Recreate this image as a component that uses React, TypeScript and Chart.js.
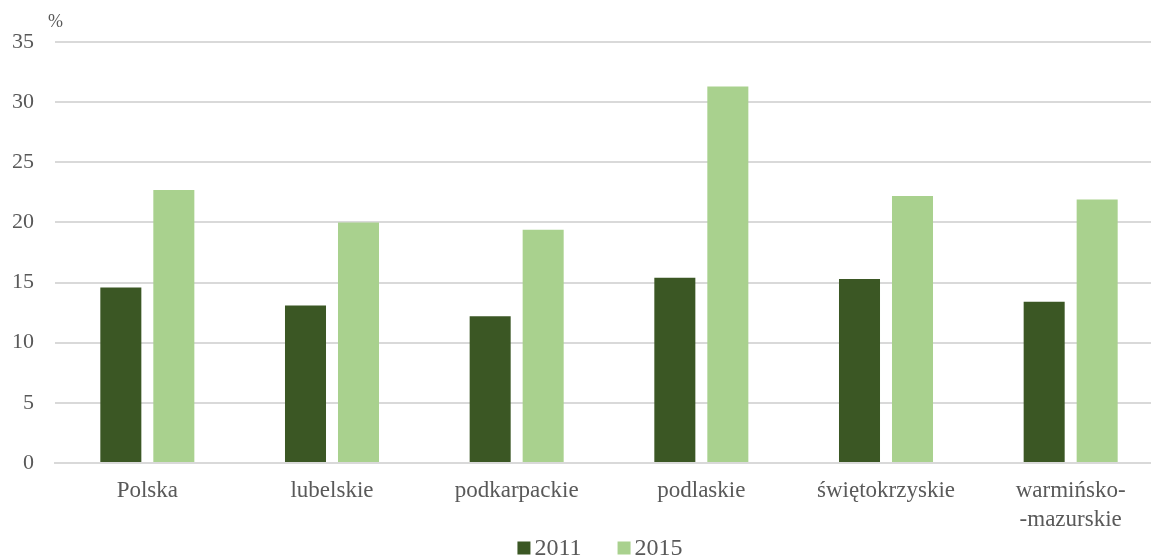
import React, { useEffect, useRef } from "react";
import { Chart, registerables } from "chart.js";

Chart.register(...registerables);

const categories: (string | string[])[] = [
  "Polska",
  "lubelskie",
  "podkarpackie",
  "podlaskie",
  "świętokrzyskie",
  ["warmińsko-", "-mazurskie"],
];
const values2011 = [14.6, 13.1, 12.2, 15.4, 15.3, 13.4];
const values2015 = [22.7, 20.0, 19.4, 31.3, 22.2, 21.9];
const seriesLabels = ["2011", "2015"];
const seriesColors = ["#3B5724", "#A9D18E"];
const yMin = 0;
const yMax = 35;
const yStep = 5;
const unitLabel = "%";

const FONT = "'Liberation Serif', 'Times New Roman', serif";
const TEXT = "#595959";

const unitPlugin = {
  id: "unitLabel",
  afterDraw(chart: any) {
    const { ctx, chartArea } = chart;
    ctx.save();
    ctx.font = `18px ${FONT}`;
    ctx.fillStyle = TEXT;
    ctx.textAlign = "left";
    ctx.textBaseline = "middle";
    ctx.fillText(unitLabel, chartArea.left - 7, 22);
    ctx.restore();
  },
};

const legendPlugin = {
  id: "bottomLegend",
  afterDraw(chart: any) {
    const { ctx } = chart;
    const box = 13;
    const gap = 4;
    const itemGap = 36;
    const cy = 548;
    ctx.save();
    ctx.font = `24px ${FONT}`;
    const items = chart.data.datasets.map((ds: any) => ({
      label: ds.label,
      color: ds.backgroundColor,
      w: ctx.measureText(ds.label).width,
    }));
    const total =
      items.reduce((s: number, it: any) => s + box + gap + it.w, 0) +
      itemGap * (items.length - 1);
    let x = chart.width / 2 - total / 2;
    ctx.textAlign = "left";
    ctx.textBaseline = "middle";
    items.forEach((it: any) => {
      ctx.fillStyle = it.color;
      ctx.fillRect(x, cy - box / 2, box, box);
      x += box + gap;
      ctx.fillStyle = TEXT;
      ctx.fillText(it.label, x, cy + 1);
      x += it.w + itemGap;
    });
    ctx.restore();
  },
};

export default function App() {
  const ref = useRef<HTMLCanvasElement | null>(null);
  useEffect(() => {
    if (!ref.current) return;
    const chart = new Chart(ref.current, {
      type: "bar",
      data: {
        labels: categories as any,
        datasets: [
          {
            label: seriesLabels[0],
            data: values2011,
            backgroundColor: seriesColors[0],
            borderWidth: 0,
            barPercentage: 0.774,
            categoryPercentage: 0.574,
          },
          {
            label: seriesLabels[1],
            data: values2015,
            backgroundColor: seriesColors[1],
            borderWidth: 0,
            barPercentage: 0.774,
            categoryPercentage: 0.574,
          },
        ],
      },
      options: {
        animation: false,
        responsive: false,
        layout: { padding: { top: 42, right: 37, left: 0, bottom: 0 } },
        plugins: {
          tooltip: { enabled: false },
          legend: { display: false },
        },
        scales: {
          x: {
            afterFit(scale: any) {
              scale.height = 95;
            },
            grid: { display: false, drawTicks: false },
            border: { display: true, color: "#d9d9d9", width: 2 },
            ticks: {
              color: TEXT,
              padding: 14,
              maxRotation: 0,
              autoSkip: false,
              font: { family: FONT, size: 23, lineHeight: 1.25 },
            },
          },
          y: {
            min: yMin,
            max: yMax,
            afterFit(scale: any) {
              scale.width = 55;
            },
            grid: { color: "#d9d9d9", lineWidth: 2, drawTicks: false },
            border: { display: false },
            ticks: {
              stepSize: yStep,
              color: TEXT,
              padding: 21,
              font: { family: FONT, size: 22 },
            },
          },
        },
      },
      plugins: [unitPlugin, legendPlugin],
    });
    return () => chart.destroy();
  }, []);
  return (
    <div
      style={{
        position: "absolute",
        left: 0,
        top: 0,
        width: 1151,
        height: 558,
        overflow: "hidden",
      }}
    >
      <canvas ref={ref} width={1200} height={558} />
    </div>
  );
}
